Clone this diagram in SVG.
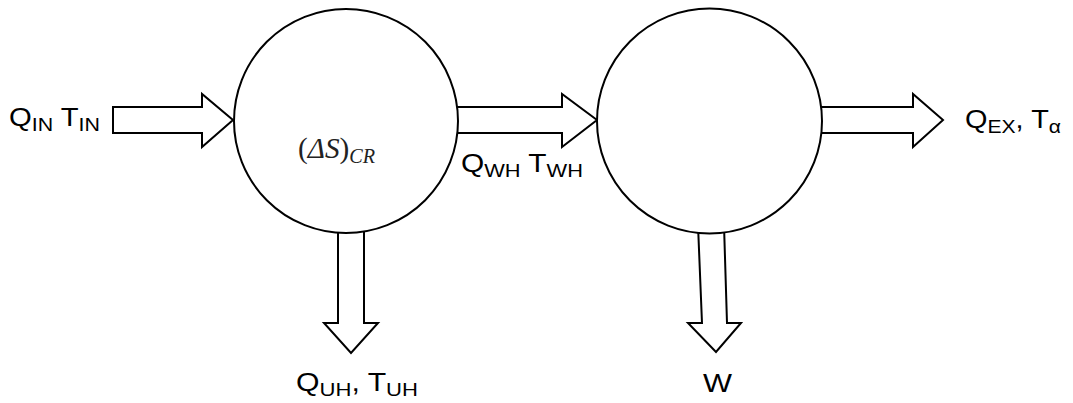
<svg xmlns="http://www.w3.org/2000/svg" width="1073" height="403" viewBox="0 0 1073 403">
<style>
.ar{fill:#fff;stroke:#000;stroke-width:2;stroke-linejoin:miter}
.nd{fill:#fff;stroke:#000;stroke-width:2}
.lb{font-family:"Liberation Sans",Arial,sans-serif;font-size:26px;fill:#000}
.sb{font-size:19px}
.mt{font-family:"Liberation Serif","Times New Roman",serif;font-size:29px;fill:#222}
</style>
<rect width="1073" height="403" fill="#fff"/>
<g id="connectors">
<polygon class="ar" points="113,107 202,107 202,94 233,120 202,147 202,133 113,133"/>
<polygon class="ar" points="450,107 562,107 562,94 597,120 562,147 562,133 450,133"/>
<polygon class="ar" points="815,107 913,107 913,94 943,120 913,147 913,133 815,133"/>
<polygon class="ar" points="338,225 364,225 364,323 378,323 351,353 324,323 338,323"/>
<polygon class="ar" points="698,225 724,225 727,323 741,323 716,352 688,323 702,323"/>
</g>
<g id="node-cr">
<circle class="nd" cx="346" cy="121" r="112"/>
<text class="mt" x="298" y="158" textLength="77" lengthAdjust="spacingAndGlyphs">(<tspan font-style="italic">ΔS</tspan>)<tspan font-style="italic" font-size="20" dy="5">CR</tspan></text>
</g>
<g id="node-engine">
<circle class="nd" cx="709.5" cy="121" r="112.5"/>
</g>
<g id="labels">
<text class="lb" x="9" y="126" textLength="91" lengthAdjust="spacingAndGlyphs">Q<tspan class="sb" dy="5">IN</tspan><tspan dy="-5"> T</tspan><tspan class="sb" dy="5">IN</tspan></text>
<text class="lb" x="461" y="172" textLength="122" lengthAdjust="spacingAndGlyphs">Q<tspan class="sb" dy="5">WH</tspan><tspan dy="-5"> T</tspan><tspan class="sb" dy="5">WH</tspan></text>
<text class="lb" x="965" y="128" textLength="96" lengthAdjust="spacingAndGlyphs">Q<tspan class="sb" dy="5">EX</tspan><tspan dy="-5">, T</tspan><tspan class="sb" dy="5">α</tspan></text>
<text class="lb" x="296" y="391" textLength="122" lengthAdjust="spacingAndGlyphs">Q<tspan class="sb" dy="5">UH</tspan><tspan dy="-5">, T</tspan><tspan class="sb" dy="5">UH</tspan></text>
<text class="lb" x="703" y="392" font-size="28" textLength="29" lengthAdjust="spacingAndGlyphs">W</text>
</g>
</svg>
